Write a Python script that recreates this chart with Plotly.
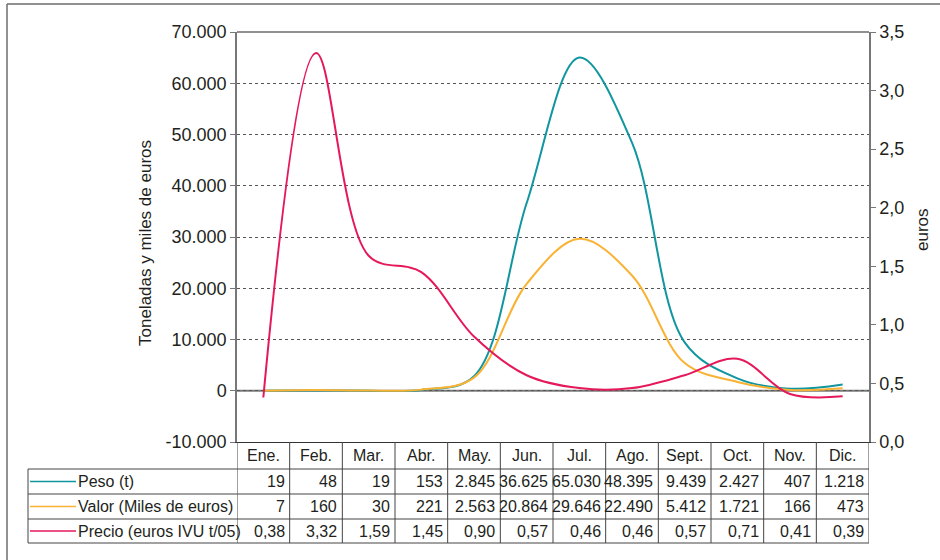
import plotly.graph_objects as go

# Monthly series
months = ["Ene.", "Feb.", "Mar.", "Abr.", "May.", "Jun.", "Jul.", "Ago.", "Sept.", "Oct.", "Nov.", "Dic."]
peso = [19, 48, 19, 153, 2845, 36625, 65030, 48395, 9439, 2427, 407, 1218]
valor = [7, 160, 30, 221, 2563, 20864, 29646, 22490, 5412, 1721, 166, 473]
precio = [0.38, 3.32, 1.59, 1.45, 0.90, 0.57, 0.46, 0.46, 0.57, 0.71, 0.41, 0.39]

series_names = ["Peso (t)", "Valor (Miles de euros)", "Precio (euros IVU t/05)"]
series_colors = ["#11969f", "#f9b233", "#e5195a"]

left_ticks = [-10000, 0, 10000, 20000, 30000, 40000, 50000, 60000, 70000]
left_ticktext = ["-10.000", "0", "10.000", "20.000", "30.000", "40.000", "50.000", "60.000", "70.000"]
right_ticks = [0, 0.5, 1.0, 1.5, 2.0, 2.5, 3.0, 3.5]
right_ticktext = ["0,0", "0,5", "1,0", "1,5", "2,0", "2,5", "3,0", "3,5"]


def fmt_int(v):
    return f"{v:,}".replace(",", ".")


def fmt_dec(v):
    return f"{v:.2f}".replace(".", ",")


table_rows = [[fmt_int(v) for v in peso], [fmt_int(v) for v in valor], [fmt_dec(v) for v in precio]]

# Layout geometry in pixels
W, H = 940, 560
L, R, T, B = 237, 869, 32, 442
FONT = "Liberation Sans, Arial, Helvetica, sans-serif"
TXT = "#231f20"


def px(x):
    return (x - L) / (R - L)


def py(y):
    return (B - y) / (B - T)


x_idx = list(range(len(months)))

fig = go.Figure()
fig.add_trace(go.Scatter(x=x_idx, y=peso, mode="lines", name=series_names[0],
                         line=dict(color=series_colors[0], width=2, shape="spline", smoothing=1.0)))
fig.add_trace(go.Scatter(x=x_idx, y=valor, mode="lines", name=series_names[1],
                         line=dict(color=series_colors[1], width=2, shape="spline", smoothing=1.0)))
fig.add_trace(go.Scatter(x=x_idx, y=precio, mode="lines", name=series_names[2], yaxis="y2",
                         line=dict(color=series_colors[2], width=2, shape="spline", smoothing=1.0)))

shapes = []
annotations = []

# zero line
shapes.append(dict(type="line", xref="paper", yref="y", x0=0, x1=1, y0=0, y1=0,
                   line=dict(color="#7a7a7a", width=2), layer="below"))
# top border of plot area
shapes.append(dict(type="line", xref="paper", yref="paper", x0=0, x1=1, y0=1, y1=1,
                   line=dict(color="#222", width=1.2)))

# outer frame (left and top edges)
shapes.append(dict(type="line", xref="paper", yref="paper", x0=px(7), x1=px(7), y0=py(4), y1=py(562),
                   line=dict(color="#6d6d6d", width=1.5)))
shapes.append(dict(type="line", xref="paper", yref="paper", x0=px(7), x1=px(942), y0=py(4), y1=py(4),
                   line=dict(color="#6d6d6d", width=1.5)))

# data table grid
row_edges = [442, 469, 494, 519, 543]
tcol = "#444"
for i in range(len(months) + 1):
    shapes.append(dict(type="line", xref="x", yref="paper", x0=i - 0.5, x1=i - 0.5,
                       y0=py(row_edges[0]), y1=py(row_edges[-1]), line=dict(color=tcol, width=1)))
for k, yy in enumerate(row_edges[1:]):
    shapes.append(dict(type="line", xref="paper", yref="paper", x0=px(28), x1=1,
                       y0=py(yy), y1=py(yy), line=dict(color=tcol, width=1)))
shapes.append(dict(type="line", xref="paper", yref="paper", x0=px(28), x1=px(28),
                   y0=py(row_edges[1]), y1=py(row_edges[-1]), line=dict(color=tcol, width=1)))

# month headers
for i, m in enumerate(months):
    annotations.append(dict(x=i, y=py((row_edges[0] + row_edges[1]) / 2), xref="x", yref="paper",
                            text=m, showarrow=False, xanchor="center", yanchor="middle",
                            font=dict(family=FONT, size=16, color=TXT)))

# series rows: key swatch, name and values
for r in range(3):
    yc = py((row_edges[r + 1] + row_edges[r + 2]) / 2)
    shapes.append(dict(type="line", xref="paper", yref="paper", x0=px(30), x1=px(76), y0=yc, y1=yc,
                       line=dict(color=series_colors[r], width=1.5)))
    annotations.append(dict(x=px(76), y=yc, xref="paper", yref="paper", text=series_names[r],
                            showarrow=False, xanchor="left", yanchor="middle",
                            font=dict(family=FONT, size=16, color=TXT)))
    for i, val in enumerate(table_rows[r]):
        annotations.append(dict(x=i + 0.5, y=yc, xref="x", yref="paper", text=val, xshift=-3,
                                showarrow=False, xanchor="right", yanchor="middle",
                                font=dict(family=FONT, size=16, color=TXT)))

# axis titles
annotations.append(dict(x=px(145), y=py(243), xref="paper", yref="paper",
                        text="Toneladas y miles de euros", textangle=-90, showarrow=False,
                        xanchor="center", yanchor="middle", font=dict(family=FONT, size=17, color=TXT)))
annotations.append(dict(x=px(922), y=py(230), xref="paper", yref="paper",
                        text="euros", textangle=-90, showarrow=False,
                        xanchor="center", yanchor="middle", font=dict(family=FONT, size=17, color=TXT)))

fig.update_layout(
    width=W, height=H,
    margin=dict(l=L, r=W - R, t=T, b=H - B, pad=0),
    paper_bgcolor="white", plot_bgcolor="white",
    showlegend=False,
    font=dict(family=FONT, size=18, color=TXT),
    xaxis=dict(range=[-0.5, len(months) - 0.5], showticklabels=False, showgrid=False, zeroline=False,
               showline=True, linecolor="#333", linewidth=1, ticks=""),
    yaxis=dict(range=[-10000, 70000], tickvals=left_ticks, ticktext=left_ticktext,
               showgrid=True, gridcolor="#555", gridwidth=1, griddash="3px,3px",
               zeroline=False, showline=True, linecolor="#777", linewidth=1.5,
               ticks="outside", ticklen=5, tickcolor="#777", tickfont=dict(size=18)),
    yaxis2=dict(range=[0, 3.5], overlaying="y", side="right", tickvals=right_ticks, ticktext=right_ticktext,
                showgrid=False, zeroline=False, showline=True, linecolor="#777", linewidth=1.5,
                ticks="outside", ticklen=5, tickcolor="#777", tickfont=dict(size=18)),
    shapes=shapes,
    annotations=annotations,
)

fig.write_html("out.html")
